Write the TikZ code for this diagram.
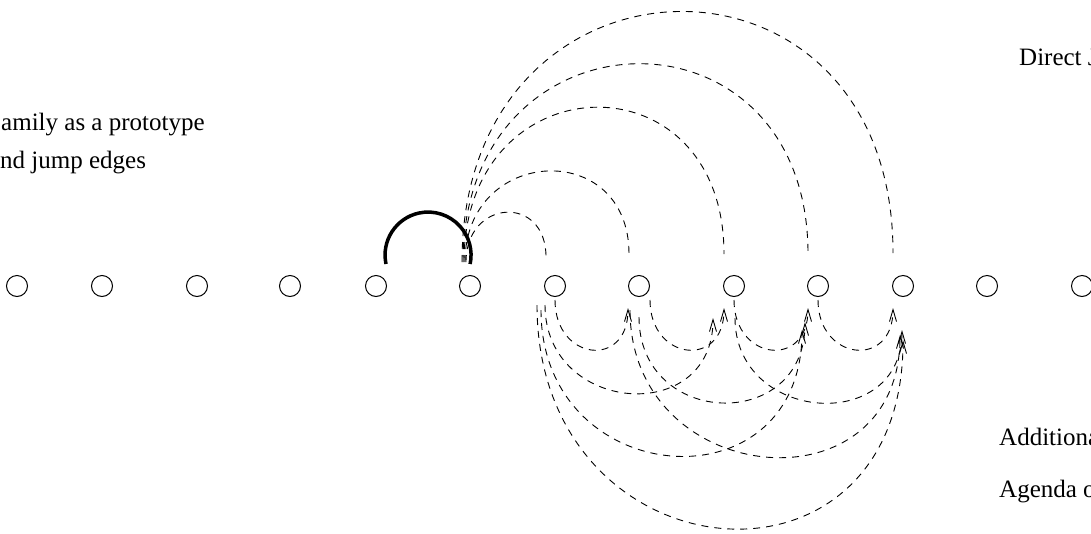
\documentclass[tikz,border=0pt]{standalone}
\usepackage{fontspec}
\setmainfont{Liberation Serif}
\usetikzlibrary{arrows.meta}
\begin{document}
\begin{tikzpicture}[x=1pt,y=-1pt,
  state/.style={circle,draw,line width=1pt,minimum size=21pt,inner sep=0pt},
  label/.style={anchor=base west,inner sep=0pt,font=\fontsize{25}{30}\selectfont},
  upjump/.style={line width=0.9pt,dash pattern=on 7pt off 6pt},
  lowjump/.style={line width=0.9pt,dash pattern=on 7pt off 6pt,-{Straight Barb[length=12pt,width=7pt]}},
  proto/.style={line width=3.5pt}]
\useasboundingbox (0,0) rectangle (1091,533);
% nodes
\node[state] (n1) at (17,286) {};
\node[state] (n2) at (102,286) {};
\node[state] (n3) at (197,286) {};
\node[state] (n4) at (290,286) {};
\node[state] (n5) at (376,286) {};
\node[state] (n6) at (470,286) {};
\node[state] (n7) at (555,286) {};
\node[state] (n8) at (639,286) {};
\node[state] (n9) at (734,286) {};
\node[state] (n10) at (818,286) {};
\node[state] (n11) at (903,286) {};
\node[state] (n12) at (987,286) {};
\node[state] (n13) at (1082,286) {};
% texts
\node[label] (t1) at (1,130) {amily as a prototype};
\node[label] (t2) at (0,168) {nd jump edges};
\node[label] (t3) at (1019,65) {Direct J};
\node[label] (t4) at (999,445) {Additiona};
\node[label] (t5) at (999,497) {Agenda o};
% thick prototype arc
\draw[proto] ([shift={(10,-22)}]n5.center) arc[start angle=168,end angle=372,radius=43];
% upper dashed arcs
\draw[upjump] ([shift={(-4,-24)}]n6.center) .. controls +(0,-63) and +(0,-63) .. ([shift={(-9,-29)}]n7.center);
\draw[upjump] ([shift={(-5,-24)}]n6.center) .. controls +(0,-116) and +(0,-116) .. ([shift={(-10,-32)}]n8.center);
\draw[upjump] ([shift={(-6,-24)}]n6.center) .. controls +(0,-201) and +(0,-201) .. ([shift={(-10,-32)}]n9.center);
\draw[upjump] ([shift={(-7,-24)}]n6.center) .. controls +(0,-259) and +(0,-259) .. ([shift={(-10,-32)}]n10.center);
\draw[upjump] ([shift={(-8,-24)}]n6.center) .. controls +(0,-328) and +(0,-328) .. ([shift={(-10,-33)}]n11.center);
% lower dashed arcs with arrows
\draw[lowjump] ([shift={(0,14)}]n7.center) .. controls +(0,61) and +(0,61) .. ([shift={(-11,22)}]n8.center);
\draw[lowjump] ([shift={(11,14)}]n8.center) .. controls +(0,61) and +(0,61) .. ([shift={(-10,22)}]n9.center);
\draw[lowjump] ([shift={(0,14)}]n9.center) .. controls +(0,61) and +(0,61) .. ([shift={(-10,22)}]n10.center);
\draw[lowjump] ([shift={(0,14)}]n10.center) .. controls +(0,61) and +(0,61) .. ([shift={(-10,22)}]n11.center);
\draw[lowjump] ([shift={(-10,19)}]n7.center) .. controls +(0,109) and +(0,109) .. ([shift={(-21,32)}]n9.center);
\draw[lowjump] ([shift={(0,31)}]n8.center) .. controls +(0,111) and +(0,111) .. ([shift={(-13,36)}]n10.center);
\draw[lowjump] ([shift={(1,32)}]n9.center) .. controls +(0,105) and +(0,105) .. ([shift={(-1,44)}]n11.center);
\draw[lowjump] ([shift={(-14,24)}]n7.center) .. controls +(0,181) and +(0,181) .. ([shift={(-16,44)}]n10.center);
\draw[lowjump] ([shift={(-9,24)}]n8.center) .. controls +(0,179) and +(0,179) .. ([shift={(-3,49)}]n11.center);
\draw[lowjump] ([shift={(-18,19)}]n7.center) .. controls +(0,274) and +(0,274) .. ([shift={(0,54)}]n11.center);
\end{tikzpicture}
\end{document}
